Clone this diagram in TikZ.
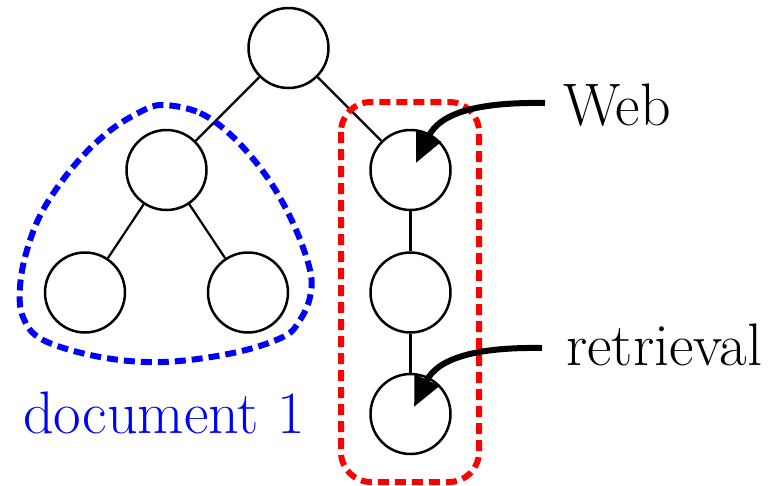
\documentclass[tikz,border=0pt]{standalone}
\usetikzlibrary{arrows.meta}
\begin{document}
\begin{tikzpicture}[x=1pt,y=-1pt,
  treenode/.style={circle,draw=black,line width=2.5pt,minimum size=80pt,inner sep=0pt},
  treeedge/.style={draw=black,line width=2.2pt},
  grouprule/.style={line width=6pt,dash pattern=on 11pt off 6pt},
  pointer/.style={line width=6pt,-{Triangle[length=30pt,width=26pt]}},
  lbl/.style={font=\fontsize{60}{60}\selectfont,inner sep=0pt,anchor=base west}]
  \useasboundingbox (0,0) rectangle (776,485);

  % tree nodes
  \node[treenode] (root) at (288.5,48) {};
  \node[treenode] (l)  at (166.5,170) {};
  \node[treenode] (ll) at (85,292.5) {};
  \node[treenode] (lr) at (248,292.5) {};
  \node[treenode] (r1) at (410.5,170) {};
  \node[treenode] (r2) at (410.5,292.5) {};
  \node[treenode] (r3) at (410.5,414) {};

  % tree edges
  \draw[treeedge] (root) -- (l);
  \draw[treeedge] (root) -- (r1);
  \draw[treeedge] (l) -- (ll);
  \draw[treeedge] (l) -- (lr);
  \draw[treeedge] (r1) -- (r2);
  \draw[treeedge] (r2) -- (r3);

  % grouping outlines
  \draw[grouprule,blue] plot[smooth cycle,tension=0.6] coordinates {
    (163,105) (200,113) (233,137) (267,177) (293,223) (310,270) (310,297)
    (300,320) (283,337) (233,353) (163,362) (100,357) (43,340) (23,317)
    (20,287) (27,250) (43,210) (73,167) (107,133) (140,112)};
  \draw[grouprule,red,rounded corners=30pt] (341,102) rectangle (479,482);

  % labels
  \node[lbl] (web) at (563,125) {Web};
  \node[lbl] (ret) at (566,365) {retrieval};
  \node[lbl,text=blue] (doc) at (23,433) {document 1};

  % pointers from the labels
  \coordinate (webtail) at (545,103);
  \coordinate (webtip) at (416,163);
  \coordinate (rettail) at (542,348);
  \coordinate (rettip) at (414,407);
  \draw[pointer] (webtail) .. controls (480,102) and (440,112) .. (webtip);
  \draw[pointer] (rettail) .. controls (480,347) and (438,357) .. (rettip);
\end{tikzpicture}
\end{document}
